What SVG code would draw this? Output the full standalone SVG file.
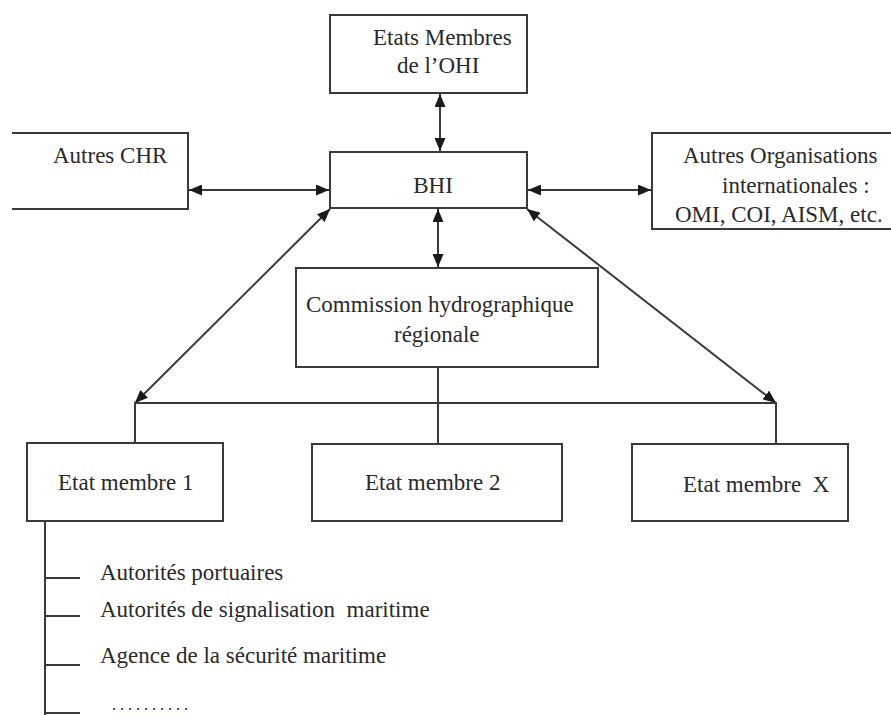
<svg xmlns="http://www.w3.org/2000/svg" width="891" height="715" viewBox="0 0 891 715">
<style>
.box{fill:#fff;stroke:#3a3a3a;stroke-width:2}
.ln{fill:none;stroke:#3a3a3a;stroke-width:2}
.ar{fill:none;stroke:#3a3a3a;stroke-width:2;marker-start:url(#ah);marker-end:url(#ah)}
text{font-family:"Liberation Serif","Times New Roman",serif;font-size:23px;fill:#2a2a2a}
</style>
<defs>
<marker id="ah" viewBox="0 0 13 11" refX="13" refY="5.5" markerWidth="13" markerHeight="11" markerUnits="userSpaceOnUse" orient="auto-start-reverse">
<path d="M0,0 L13,5.5 L0,11 Z" fill="#1a1a1a"/>
</marker>
</defs>
<rect width="891" height="715" fill="#fff"/>
<g id="connectors">
<line class="ar" x1="440" y1="94" x2="440" y2="151"/>
<line class="ar" x1="189" y1="190" x2="329" y2="190"/>
<line class="ar" x1="528" y1="190" x2="651" y2="190"/>
<line class="ar" x1="438" y1="209" x2="438" y2="267"/>
<line class="ar" x1="330" y1="209" x2="135" y2="403"/>
<line class="ar" x1="527" y1="209" x2="776" y2="403"/>
<path class="ln" d="M135,443 V403 H776 V444"/>
<line class="ln" x1="438" y1="368" x2="438" y2="444"/>
<path class="ln" d="M45,521 V715"/>
<line class="ln" x1="45" y1="578" x2="80" y2="578"/>
<line class="ln" x1="45" y1="616" x2="80" y2="616"/>
<line class="ln" x1="45" y1="665" x2="80" y2="665"/>
<line class="ln" x1="45" y1="713" x2="80" y2="713"/>
</g>
<g id="n-ohi">
<rect class="box" x="330" y="15" width="197" height="78"/>
<text x="373" y="45">Etats Membres</text>
<text x="397" y="73">de l’OHI</text>
</g>
<g id="n-chr">
<path class="box" d="M12,133 H188 V209 H12"/>
<text x="53" y="163">Autres CHR</text>
</g>
<g id="n-bhi">
<rect class="box" x="330" y="152" width="197" height="56"/>
<text x="433" y="193" text-anchor="middle">BHI</text>
</g>
<g id="n-org">
<path class="box" d="M893,133 H652 V229 H893"/>
<text x="683" y="163">Autres Organisations</text>
<text x="722" y="193">internationales :</text>
<text x="675" y="222">OMI, COI, AISM, etc.</text>
</g>
<g id="n-chr-reg">
<rect class="box" x="296" y="268" width="302" height="99"/>
<text x="306" y="312">Commission hydrographique</text>
<text x="394" y="342">régionale</text>
</g>
<g id="n-em1">
<rect class="box" x="27" y="443" width="196" height="78"/>
<text x="58" y="490">Etat membre 1</text>
</g>
<g id="n-em2">
<rect class="box" x="312" y="444" width="250" height="77"/>
<text x="365" y="490">Etat membre 2</text>
</g>
<g id="n-emx">
<rect class="box" x="632" y="444" width="216" height="77"/>
<text x="683" y="492" xml:space="preserve">Etat membre  X</text>
</g>
<g id="n-sub">
<text x="100" y="580">Autorités portuaires</text>
<text x="100" y="617" xml:space="preserve">Autorités de signalisation  maritime</text>
<text x="100" y="663">Agence de la sécurité maritime</text>
<text x="112" y="710" style="font-size:16px;letter-spacing:4px">..........</text>
</g>
</svg>
